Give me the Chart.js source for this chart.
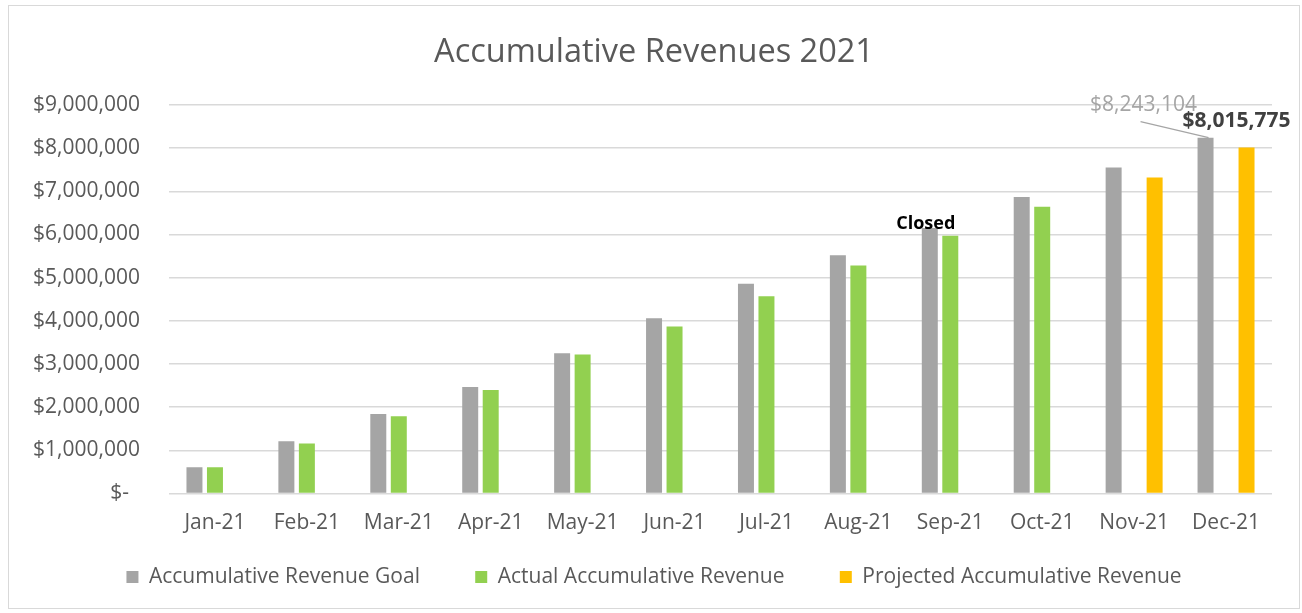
<!DOCTYPE html>
<html>
<head>
<meta charset="utf-8">
<title>Accumulative Revenues 2021</title>
<script src="https://cdn.jsdelivr.net/npm/chart.js@4.4.0/dist/chart.umd.min.js"></script>
<style>
  body {
    margin: 0;
    background: #fff;
  }
  .chart-box {
    position: absolute;
    left: 8px;
    top: 5px;
    width: 1290px;
    height: 602px;
    border: 1px solid #d9d9d9;
  }
</style>
</head>
<body>
<div class="chart-box">
  <canvas id="myChart"></canvas>
</div>
<script>
// data
const months = ["Jan-21", "Feb-21", "Mar-21", "Apr-21", "May-21", "Jun-21",
  "Jul-21", "Aug-21", "Sep-21", "Oct-21", "Nov-21", "Dec-21"];
const goal = [610000, 1210000, 1840000, 2470000, 3250000, 4060000,
  4860000, 5520000, 6150000, 6870000, 7550000, 8243104];
const actual = [610000, 1160000, 1790000, 2400000, 3220000, 3870000,
  4570000, 5280000, 5970000, 6640000, null, null];
const projected = [null, null, null, null, null, null,
  null, null, null, null, 7320000, 8015775];
const yTicks = [0, 1000000, 2000000, 3000000, 4000000, 5000000,
  6000000, 7000000, 8000000, 9000000];
const closedMonth = "Sep-21";

const textColor = "#595959";
const fontName = "'Open Sans', sans-serif";

function money(v) {
  if (v === 0) return "$-  ";
  return "$" + v.toLocaleString("en-US");
}

// labels on top of bars (Closed + the two December values)
const barNotes = {
  id: "barNotes",
  afterDatasetsDraw(chart) {
    const c = chart.ctx;
    const goalBars = chart.getDatasetMeta(0).data;
    const projBars = chart.getDatasetMeta(2).data;
    const last = months.length - 1;
    c.save();
    c.textAlign = "center";
    c.textBaseline = "middle";

    // Closed
    const sep = goalBars[months.indexOf(closedMonth)];
    c.font = "bold 18px " + fontName;
    c.fillStyle = "#000";
    c.fillText("Closed", sep.x - 4, sep.y - 4);

    // goal value with leader line
    const dg = goalBars[last];
    c.strokeStyle = "#a5a5a5";
    c.lineWidth = 1.2;
    c.beginPath();
    c.moveTo(dg.x - 65, dg.y - 16);
    c.lineTo(dg.x + 3, dg.y);
    c.stroke();
    c.font = "21px " + fontName;
    c.fillStyle = "#a5a5a5";
    c.fillText(money(goal[last]), dg.x - 62, dg.y - 33);

    // projected value
    const dp = projBars[last];
    c.font = "bold 21px " + fontName;
    c.fillStyle = "#404040";
    c.fillText(money(projected[last]), dp.x - 10, dp.y - 26);
    c.restore();
  },
};

// chart
const ctx = document.getElementById("myChart");
new Chart(ctx, {
  type: "bar",
  data: {
    labels: months,
    datasets: [
      {
        label: "Accumulative Revenue Goal",
        data: goal,
        backgroundColor: "#A5A5A5",
        borderWidth: 0,
      },
      {
        label: "Actual Accumulative Revenue",
        data: actual,
        backgroundColor: "#92D050",
        borderWidth: 0,
      },
      {
        label: "Projected Accumulative Revenue",
        data: projected,
        backgroundColor: "#FFC000",
        borderWidth: 0,
      },
    ],
  },
  options: {
    responsive: true,
    maintainAspectRatio: false,
    animation: false,
    categoryPercentage: 0.669,
    barPercentage: 0.78,
    layout: {
      padding: { left: 0, right: 0, top: 0, bottom: 10.5 },
    },
    plugins: {
      title: {
        display: true,
        text: "Accumulative Revenues 2021",
        color: textColor,
        font: { family: fontName, size: 32.5, weight: "normal" },
        padding: { top: 27.5, bottom: 32.5 },
      },
      legend: {
        position: "bottom",
        labels: {
          color: textColor,
          font: { family: fontName, size: 21 },
          boxWidth: 12,
          boxHeight: 12,
          padding: 28,
          // extra room after the first two entries, like the excel legend
          generateLabels(chart) {
            const items = Chart.defaults.plugins.legend.labels.generateLabels(chart);
            items.forEach((it, i) => {
              if (i < items.length - 1) it.text = it.text + "     ";
            });
            return items;
          },
        },
      },
      tooltip: { enabled: false },
    },
    scales: {
      x: {
        grid: { display: false, drawTicks: false },
        border: { display: false },
        ticks: {
          color: textColor,
          font: { family: fontName, size: 21 },
          padding: 17,
          maxRotation: 0,
        },
        afterFit(scale) {
          scale.height = 45;
        },
      },
      y: {
        min: 0,
        max: yTicks[yTicks.length - 1],
        afterBuildTicks(scale) {
          scale.ticks = yTicks.map((v) => ({ value: v }));
        },
        grid: {
          color: "#d9d9d9",
          lineWidth: 1.5,
          drawTicks: false,
        },
        border: { display: false },
        ticks: {
          color: textColor,
          font: { family: fontName, size: 21 },
          padding: 29,
          callback: (v) => money(v),
        },
        afterFit(scale) {
          scale.width = 160;
        },
      },
      // empty strip on the right side of the plot
      yRight: {
        type: "linear",
        position: "right",
        grid: { display: false, drawTicks: false },
        border: { display: false },
        ticks: { display: false },
        afterFit(scale) {
          scale.width = 27;
        },
      },
    },
  },
  plugins: [barNotes],
});
</script>
</body>
</html>
